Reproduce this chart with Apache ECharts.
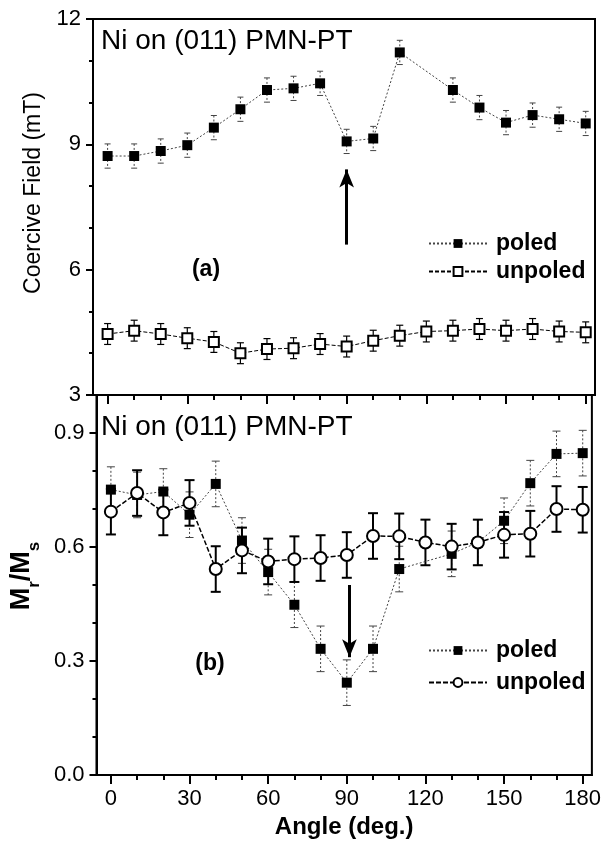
<!DOCTYPE html>
<html>
<head>
<meta charset="utf-8">
<script src="https://cdn.jsdelivr.net/npm/echarts@6/dist/echarts.min.js"></script>
<style>
html,body{margin:0;padding:0;background:#fff;}
#chart{width:604px;height:853px;}
</style>
</head>
<body>
<div id="chart"></div>
<script>
// ---- data ----
const anglesAll = [0,10,20,30,40,50,60,70,80,90,100,110,120,130,140,150,160,170,180];
const anglesPoled = [0,10,20,30,40,50,60,70,80,90,100,110,130,140,150,160,170,180];

const coerPoled   = [8.72,8.72,8.84,8.98,9.40,9.84,10.30,10.34,10.46,9.07,9.14,11.20,10.30,9.88,9.52,9.70,9.60,9.50];
const coerPoledErr = [0.29,0.29,0.29,0.29,0.29,0.29,0.29,0.29,0.29,0.29,0.29,0.29,0.29,0.29,0.29,0.29,0.29,0.29];
const coerUnpoled = [4.46,4.54,4.46,4.36,4.27,4.00,4.10,4.12,4.22,4.16,4.30,4.42,4.52,4.54,4.58,4.54,4.58,4.52,4.50];
const coerUnpoledErr = [0.25,0.25,0.25,0.25,0.25,0.25,0.25,0.25,0.25,0.25,0.25,0.25,0.25,0.25,0.25,0.25,0.25,0.25,0.25];

const mrPoled   = [0.751,0.737,0.746,0.685,0.766,0.617,0.534,0.448,0.332,0.243,0.332,0.542,0.582,0.612,0.669,0.768,0.845,0.847];
const mrPoledErr = [0.06,0.06,0.06,0.06,0.06,0.06,0.06,0.06,0.06,0.06,0.06,0.06,0.06,0.06,0.06,0.06,0.06,0.06];
const mrUnpoled = [0.693,0.742,0.691,0.716,0.542,0.591,0.562,0.568,0.571,0.579,0.629,0.628,0.612,0.601,0.612,0.632,0.635,0.700,0.698];
const mrUnpoledErr = [0.06,0.06,0.06,0.06,0.06,0.06,0.06,0.06,0.06,0.06,0.06,0.06,0.06,0.06,0.06,0.06,0.06,0.06,0.06];

const xMajorTicks = [0,30,60,90,120,150,180];
const xMinorTicks = [10,20,40,50,70,80,100,110,130,140,160,170];
const yTopMajor = [3,6,9,12];
const yTopMinor = [4,5,7,8,10,11];
const yBotMajor = [0,0.3,0.6,0.9];
const yBotMinor = [0.1,0.2,0.4,0.5,0.7,0.8];

const arrowTop = [[90,6.6],[90,8.4]];
const arrowBot = [[91,0.50],[91,0.31]];

const panelTitle = 'Ni on (011) PMN-PT';
// ---- end data ----

const FONT = '"Liberation Sans", Arial, sans-serif';
const pairs = (xs, ys) => xs.map((x,i)=>[x, ys[i]]);
const triples = (xs, ys, es) => xs.map((x,i)=>[x, ys[i], es[i]]);

function errRender(color, width, cap, dash) {
  return function(params, api) {
    const x = api.value(0), y = api.value(1), e = api.value(2);
    const hi = api.coord([x, y + e]);
    const lo = api.coord([x, y - e]);
    const ls = {stroke: color, lineWidth: width, lineDash: dash || null};
    const cs = {stroke: color, lineWidth: width};
    return {type:'group', children:[
      {type:'line', shape:{x1:hi[0],y1:hi[1],x2:lo[0],y2:lo[1]}, style: ls},
      {type:'line', shape:{x1:hi[0]-cap,y1:hi[1],x2:hi[0]+cap,y2:hi[1]}, style: cs},
      {type:'line', shape:{x1:lo[0]-cap,y1:lo[1],x2:lo[0]+cap,y2:lo[1]}, style: cs}
    ]};
  };
}

const XMIN = -5.5, XMAX = 183.5;
function xAx(grid, major, labels) {
  return {
    type:'value', gridIndex: grid, min: XMIN, max: XMAX, position:'bottom',
    splitLine:{show:false},
    axisLine:{show: major, onZero:false, lineStyle:{color:'#000', width:2}},
    axisTick:{show:true, inside:false, length: major?9:5, lineStyle:{color:'#000', width:2},
      customValues: major ? xMajorTicks : xMinorTicks},
    axisLabel:{show: labels, customValues: xMajorTicks, color:'#000', fontFamily: FONT, fontSize:22, margin:13}
  };
}
function yAx(grid, min, max, majors, minors, major, fmt) {
  return {
    type:'value', gridIndex: grid, min: min, max: max, position:'left',
    splitLine:{show:false},
    axisLine:{show: major, onZero:false, lineStyle:{color:'#000', width:2}},
    axisTick:{show:true, inside:false, length: major?7:4, lineStyle:{color:'#000', width:2},
      customValues: major ? majors : minors},
    axisLabel:{show: major, customValues: majors, color:'#000', fontFamily: FONT, fontSize:22, margin:12,
      formatter: fmt}
  };
}

const chart = echarts.init(document.getElementById('chart'), null, {renderer:'canvas'});

const yTop = yAx(0, 3, 12, yTopMajor, yTopMinor, true, v => String(v));
yTop.name = 'Coercive Field (mT)';
yTop.nameLocation = 'middle';
yTop.nameGap = 44;
yTop.nameTextStyle = {color:'#000', fontFamily: FONT, fontSize:23, padding:[0,0,0,28]};

const yBot = yAx(1, 0, 1.0, yBotMajor, yBotMinor, true, v => v.toFixed(1));
yBot.name = '{m|M}{s|r}{m|/M}{s|s}';
yBot.nameLocation = 'middle';
yBot.nameGap = 40;
yBot.nameTextStyle = {color:'#000', fontFamily: FONT, padding:[0,0,0,18],
  rich:{
    m:{fontSize:27, fontWeight:'bold', fontFamily: FONT, color:'#000', verticalAlign:'bottom', lineHeight:30},
    s:{fontSize:17, fontWeight:'bold', fontFamily: FONT, color:'#000', verticalAlign:'bottom', lineHeight:22, padding:[0,0,-8,0]}
  }};

const xBot = xAx(1, true, true);
xBot.name = 'Angle (deg.)';
xBot.nameLocation = 'middle';
xBot.nameGap = 40;
xBot.nameTextStyle = {color:'#000', fontFamily: FONT, fontSize:24, fontWeight:'bold'};

const GRAY = '#444';

const option = {
  backgroundColor:'#fff',
  animation:false,
  title:[
    {text: panelTitle, left:101, top:27, padding:0, textStyle:{fontFamily: FONT, fontSize:28, fontWeight:'normal', color:'#000'}},
    {text: panelTitle, left:101, top:413, padding:0, textStyle:{fontFamily: FONT, fontSize:28, fontWeight:'normal', color:'#000'}}
  ],
  grid:[
    {left:93, right:9, top:19, height:376, show:true, borderColor:'#000', borderWidth:2, backgroundColor:'transparent', containLabel:false},
    {left:93, right:9, top:395, height:380, show:true, borderColor:'#000', borderWidth:2, backgroundColor:'transparent', containLabel:false}
  ],
  xAxis:[ xAx(0,true,false), xAx(0,false,false), xBot, xAx(1,false,false) ],
  yAxis:[ yTop, yAx(0,3,12,yTopMajor,yTopMinor,false), yBot, yAx(1,0,1.0,yBotMajor,yBotMinor,false) ],
  legend:[
    {data:['poled|a','unpoled|a'], orient:'vertical', left:428, top:232, padding:0, itemGap:5,
     itemWidth:58, itemHeight:11, formatter: n => n.split('|')[0],
     textStyle:{fontFamily: FONT, fontSize:23, fontWeight:'bold', color:'#000', padding:[0,0,0,4]}},
    {data:['poled|b','unpoled|b'], orient:'vertical', left:428, top:639, padding:0, itemGap:9,
     itemWidth:58, itemHeight:11, formatter: n => n.split('|')[0],
     textStyle:{fontFamily: FONT, fontSize:23, fontWeight:'bold', color:'#000', padding:[0,0,0,4]}}
  ],
  graphic:[
    {type:'text', x:206, y:270, style:{text:'(a)', fontFamily: FONT, fontSize:23, fontWeight:'bold', fill:'#000', align:'center', verticalAlign:'middle'}},
    {type:'text', x:210, y:664, style:{text:'(b)', fontFamily: FONT, fontSize:23, fontWeight:'bold', fill:'#000', align:'center', verticalAlign:'middle'}}
  ],
  series:[
    // error bars
    {type:'custom', name:'errA1', xAxisIndex:0, yAxisIndex:0, z:2, silent:true,
     renderItem: errRender(GRAY, 1, 3, [2,2]), encode:{x:0,y:1}, data: triples(anglesPoled, coerPoled, coerPoledErr)},
    {type:'custom', name:'errA2', xAxisIndex:0, yAxisIndex:0, z:2, silent:true,
     renderItem: errRender('#000', 1.2, 3.5), encode:{x:0,y:1}, data: triples(anglesAll, coerUnpoled, coerUnpoledErr)},
    {type:'custom', name:'errB1', xAxisIndex:2, yAxisIndex:2, z:2, silent:true,
     renderItem: errRender(GRAY, 1, 4, [2,2]), encode:{x:0,y:1}, data: triples(anglesPoled, mrPoled, mrPoledErr)},
    {type:'custom', name:'errB2', xAxisIndex:2, yAxisIndex:2, z:2, silent:true,
     renderItem: errRender('#000', 2, 5), encode:{x:0,y:1}, data: triples(anglesAll, mrUnpoled, mrUnpoledErr)},
    // top panel
    {type:'line', name:'poled|a', xAxisIndex:0, yAxisIndex:0, z:4,
     data: pairs(anglesPoled, coerPoled), symbol:'rect', symbolSize:10,
     itemStyle:{color:'#000'}, lineStyle:{color:GRAY, width:1, type:[2,2]},
     markLine:{silent:true, symbol:['none','arrow'], symbolSize:[11,18], label:{show:false},
       lineStyle:{color:'#000', width:3, type:'solid'},
       data:[[{coord: arrowTop[0]},{coord: arrowTop[1]}]]}},
    {type:'line', name:'unpoled|a', xAxisIndex:0, yAxisIndex:0, z:4,
     data: pairs(anglesAll, coerUnpoled), symbol:'emptyRect', symbolSize:10,
     itemStyle:{color:'#000', borderColor:'#000', borderWidth:1.5}, lineStyle:{color:'#000', width:1, type:[4,2]}},
    // bottom panel
    {type:'line', name:'poled|b', xAxisIndex:2, yAxisIndex:2, z:4,
     data: pairs(anglesPoled, mrPoled), symbol:'rect', symbolSize:10,
     itemStyle:{color:'#000'}, lineStyle:{color:GRAY, width:1, type:[2,2]},
     markLine:{silent:true, symbol:['none','arrow'], symbolSize:[11,18], label:{show:false},
       lineStyle:{color:'#000', width:3, type:'solid'},
       data:[[{coord: arrowBot[0]},{coord: arrowBot[1]}]]}},
    {type:'line', name:'unpoled|b', xAxisIndex:2, yAxisIndex:2, z:5,
     data: pairs(anglesAll, mrUnpoled), symbol:'emptyCircle', symbolSize:12,
     itemStyle:{color:'#000', borderColor:'#000', borderWidth:1.5}, lineStyle:{color:'#000', width:1.5, type:[5,2]}}
  ]
};
chart.setOption(option);
</script>
</body>
</html>
